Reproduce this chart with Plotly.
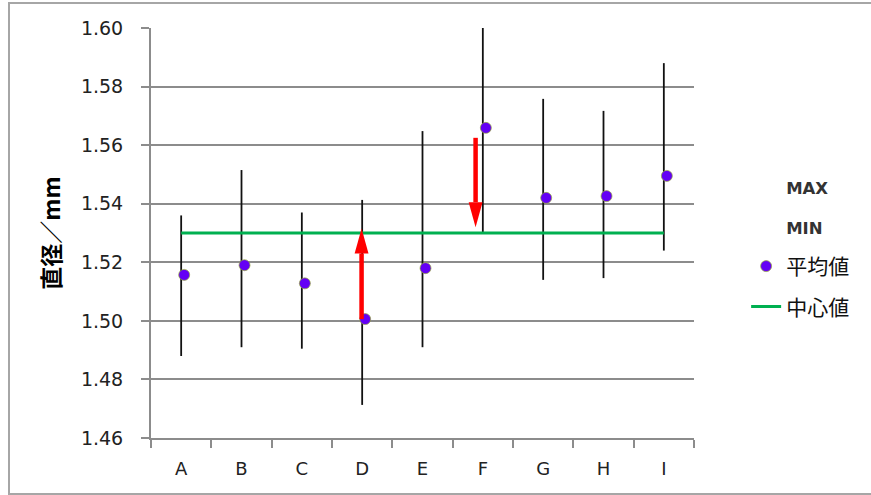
import plotly.graph_objects as go
import numpy as np

categories = ["A", "B", "C", "D", "E", "F", "G", "H", "I"]
max_vals = [1.536, 1.5515, 1.537, 1.5413, 1.5648, 1.600, 1.5758, 1.5717, 1.588]
min_vals = [1.488, 1.491, 1.4905, 1.4713, 1.491, 1.530, 1.514, 1.5146, 1.524]
mean_vals = [1.5157, 1.519, 1.5128, 1.5006, 1.518, 1.5659, 1.542, 1.5426, 1.5495]
center_vals = [1.53] * 9
y_ticks = [1.46, 1.48, 1.50, 1.52, 1.54, 1.56, 1.58, 1.60]
# arrows: (category, tail value, head value, x offset in category units)
arrows = [("D", 1.5006, 1.5315, -0.01), ("F", 1.5625, 1.532, -0.12)]

xi = np.arange(len(categories))

seg_x, seg_y = [], []
for i, (lo, hi) in enumerate(zip(min_vals, max_vals)):
    seg_x += [xi[i], xi[i], None]
    seg_y += [lo, hi, None]

small = "<span style='font-size:16.5px;font-family:DejaVu Sans;font-weight:bold;color:#333333'>{}</span>"

fig = go.Figure()
fig.add_trace(go.Scatter(x=seg_x, y=seg_y, mode="lines", line=dict(color="#111111", width=1.8),
                         showlegend=False, hoverinfo="skip"))
fig.add_trace(go.Scatter(x=xi, y=max_vals, mode="markers", name=small.format("MAX"),
                         marker=dict(color="rgba(0,0,0,0)", size=1), legendgroup="a"))
fig.add_trace(go.Scatter(x=xi, y=min_vals, mode="markers", name=small.format("MIN"),
                         marker=dict(color="rgba(0,0,0,0)", size=1), legendgroup="b"))
fig.add_trace(go.Scatter(x=xi + 0.05, y=mean_vals, mode="markers", name="平均値",
                         marker=dict(color="#6400F5", size=11, line=dict(color="rgba(150,170,60,0.7)", width=1)),
                         legendgroup="c"))
fig.add_trace(go.Scatter(x=xi, y=center_vals, mode="lines", name="中心値",
                         line=dict(color="#00B050", width=3), legendgroup="d"))

shapes = []
head_len = 0.0085
head_half = 0.115
for cat, tail, head, off in arrows:
    x0 = categories.index(cat) + off
    d = 1 if head > tail else -1
    base = head - d * head_len
    shapes.append(dict(type="line", xref="x", yref="y", x0=x0, x1=x0, y0=tail, y1=base,
                       line=dict(color="#FF0000", width=4.5)))
    shapes.append(dict(type="path", xref="x", yref="y",
                       path=f"M{x0 - head_half},{base} L{x0 + head_half},{base} L{x0},{head} Z",
                       fillcolor="#FF0000", line=dict(color="#FF0000", width=0)))
# outer chart border
shapes.append(dict(type="rect", xref="paper", yref="paper",
                   x0=(9 - 151) / 543, x1=(880 - 151) / 543,
                   y0=(438 - 494) / 410, y1=(438 - 3) / 410,
                   line=dict(color="#A6A6A6", width=2), layer="below"))

fig.update_layout(
    width=871, height=495,
    margin=dict(l=151, r=177, t=28, b=57),
    paper_bgcolor="white", plot_bgcolor="white",
    font=dict(family="DejaVu Sans, Noto Sans CJK JP", color="#222222", size=18),
    showlegend=True,
    legend=dict(x=1.096, y=0.665, xanchor="left", yanchor="top", tracegroupgap=10,
                font=dict(size=21, family="Noto Sans CJK JP", color="#111111"),
                bgcolor="rgba(0,0,0,0)"),
    shapes=shapes,
    xaxis=dict(range=[-0.5, 8.5], tickmode="array", tickvals=xi, ticktext=categories,
               ticks="", showgrid=False, zeroline=False,
               showline=True, linecolor="#8C8C8C", linewidth=2,
               tickfont=dict(size=18, color="#222222"), ticklabelstandoff=13,
               minor=dict(tickmode="array", tickvals=list(np.arange(-0.5, 9.0, 1.0)),
                          ticks="outside", ticklen=8, tickcolor="#8C8C8C", tickwidth=2, showgrid=False)),
    yaxis=dict(range=[1.46, 1.60], tickmode="array", tickvals=y_ticks,
               ticktext=[f"{v:.2f}" for v in y_ticks],
               ticks="outside", ticklen=8, tickcolor="#8C8C8C", tickwidth=2,
               showgrid=True, gridcolor="#8C8C8C", gridwidth=1.5, zeroline=False,
               showline=True, linecolor="#8C8C8C", linewidth=2,
               tickfont=dict(size=19, color="#222222"), ticklabelstandoff=14,
               title=dict(text="<b>直径／mm</b>", font=dict(size=23, family="Noto Sans CJK JP", color="#000000"),
                          standoff=14)),
)

fig.write_html("out.html", config={"displayModeBar": False},
               post_script="document.body.style.margin='0';")
